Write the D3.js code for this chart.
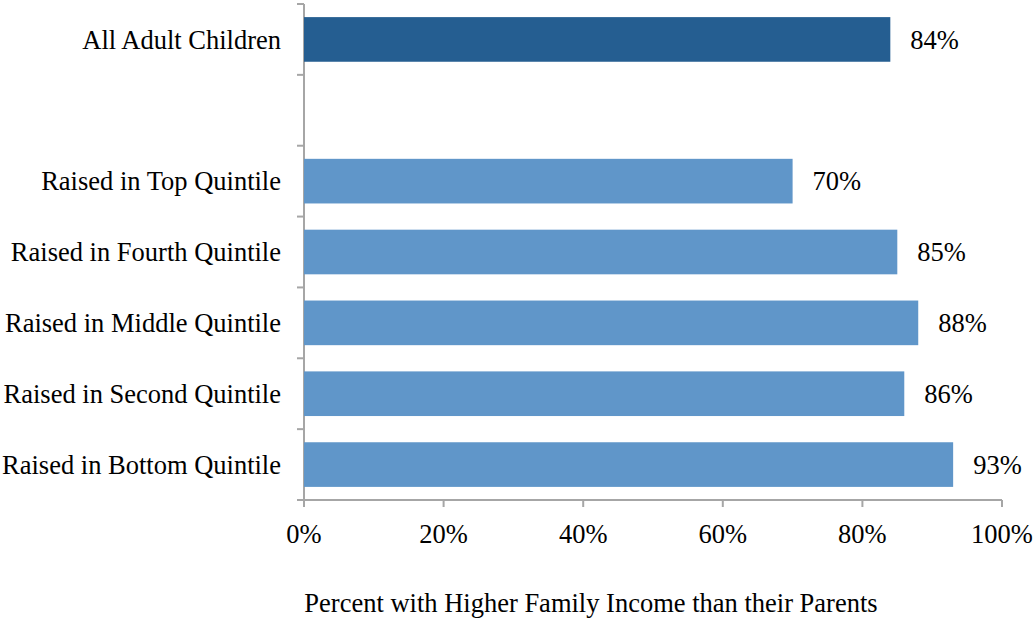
<!DOCTYPE html>
<html>
<head>
<meta charset="utf-8">
<script src="https://cdn.jsdelivr.net/npm/d3@7"></script>
<style>
  body { margin: 0; background: #fff; }
  text { font-family: "Liberation Serif", "Times New Roman", serif; fill: #000; }
</style>
</head>
<body>
<div id="chart"></div>
<script>
// categories top to bottom, the blank slot is the gap after the first bar
var categories = ["All Adult Children", "", "Raised in Top Quintile", "Raised in Fourth Quintile",
  "Raised in Middle Quintile", "Raised in Second Quintile", "Raised in Bottom Quintile"];
var values = [84, null, 70, 85, 88, 86, 93];
var xTicks = [0, 20, 40, 60, 80, 100];
var xTitle = "Percent with Higher Family Income than their Parents";

var W = 1034, H = 618;
var m = {left: 304, right: 32, top: 4, bottom: 118};
var fs = "26.5px";

var svg = d3.select("#chart").append("svg")
  .attr("width", W).attr("height", H);

var x = d3.scaleLinear().domain([0, 100]).range([m.left, W - m.right]);
var y = d3.scaleBand().domain(d3.range(categories.length))
  .range([m.top, H - m.bottom]).paddingInner(0.37).paddingOuter(0.185);

// y axis line with ticks between categories
var edges = d3.range(categories.length + 1).map(function(i) {
  return m.top + i * (H - m.bottom - m.top) / categories.length;
});
var axisColor = "#a6a6a6";
svg.append("line")
  .attr("x1", m.left).attr("x2", m.left)
  .attr("y1", m.top).attr("y2", H - m.bottom)
  .attr("stroke", axisColor).attr("stroke-width", 2);
svg.selectAll(".ytick").data(edges).enter().append("line")
  .attr("class", "ytick")
  .attr("x1", m.left - 7).attr("x2", m.left)
  .attr("y1", function(d) { return d; }).attr("y2", function(d) { return d; })
  .attr("stroke", axisColor).attr("stroke-width", 2);

// x axis
svg.append("line")
  .attr("x1", m.left).attr("x2", x(100))
  .attr("y1", H - m.bottom).attr("y2", H - m.bottom)
  .attr("stroke", axisColor).attr("stroke-width", 2);
svg.selectAll(".xtick").data(xTicks).enter().append("line")
  .attr("class", "xtick")
  .attr("x1", function(d) { return x(d); }).attr("x2", function(d) { return x(d); })
  .attr("y1", H - m.bottom).attr("y2", H - m.bottom + 7)
  .attr("stroke", axisColor).attr("stroke-width", 2);
svg.selectAll(".xlab").data(xTicks).enter().append("text")
  .attr("class", "xlab")
  .attr("x", function(d) { return x(d); })
  .attr("y", 543)
  .attr("text-anchor", "middle")
  .style("font-size", fs)
  .text(function(d) { return d + "%"; });

var rows = categories.map(function(c, i) { return {cat: c, val: values[i], i: i}; })
  .filter(function(d) { return d.val != null; });

svg.selectAll(".bar").data(rows).enter().append("rect")
  .attr("class", "bar")
  .attr("x", x(0))
  .attr("y", function(d) { return y(d.i); })
  .attr("width", function(d) { return x(d.val) - x(0); })
  .attr("height", y.bandwidth())
  .attr("fill", function(d) { return d.i === 0 ? "#255e91" : "#6096c9"; });

svg.selectAll(".val").data(rows).enter().append("text")
  .attr("class", "val")
  .attr("x", function(d) { return x(d.val) + 20; })
  .attr("y", function(d) { return y(d.i) + y.bandwidth() / 2; })
  .attr("dy", "0.35em")
  .style("font-size", fs)
  .text(function(d) { return d.val + "%"; });

svg.selectAll(".cat").data(rows).enter().append("text")
  .attr("class", "cat")
  .attr("x", m.left - 23)
  .attr("y", function(d) { return y(d.i) + y.bandwidth() / 2; })
  .attr("dy", "0.35em")
  .attr("text-anchor", "end")
  .style("font-size", fs)
  .text(function(d) { return d.cat; });

svg.append("text")
  .attr("x", 591).attr("y", 612)
  .attr("text-anchor", "middle")
  .style("font-size", fs)
  .text(xTitle);
</script>
</body>
</html>
